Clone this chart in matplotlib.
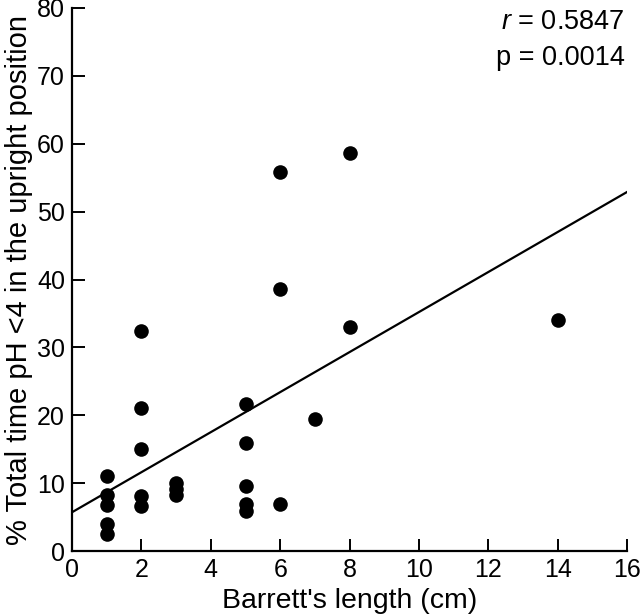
import numpy as np
import matplotlib
matplotlib.use("Agg")
import matplotlib.pyplot as plt

# Barrett's length (cm) and % time pH < 4 upright
barrett_cm = [1, 1, 1, 1, 1,
              2, 2, 2, 2, 2,
              3, 3, 3,
              5, 5, 5, 5, 5,
              6, 6, 6,
              7,
              8, 8,
              14]
pct_time = [11.1, 8.3, 6.8, 4.0, 2.5,
            32.4, 21.1, 15.0, 8.1, 6.6,
            10.0, 9.1, 8.2,
            21.6, 15.9, 9.6, 6.9, 5.9,
            55.8, 38.6, 6.9,
            19.4,
            58.7, 33.0,
            34.1]

stats_text = ["$r$ = 0.5847", "p = 0.0014"]

plt.rcParams["font.family"] = ["Liberation Sans", "DejaVu Sans"]
plt.rcParams["mathtext.fontset"] = "custom"
plt.rcParams["mathtext.it"] = "Liberation Sans:italic"

fig = plt.figure(figsize=(6.4, 6.15), dpi=100)
ax = fig.add_axes([0.1125, 0.104, 0.8675, 0.883])

x = np.array(barrett_cm, dtype=float)
y = np.array(pct_time, dtype=float)

ax.plot(x, y, "o", color="black", markersize=10.5, markeredgewidth=0)

# least squares line across the whole axis
slope, intercept = np.polyfit(x, y, 1)
xs = np.array([0, 16])
ax.plot(xs, intercept + slope * xs, color="black", linewidth=1.6)

ax.set_xlim(0, 16)
ax.set_ylim(0, 80)
ax.set_xticks(range(0, 17, 2))
ax.set_yticks(range(0, 81, 10))

for s in ["top", "right"]:
    ax.spines[s].set_visible(False)
for s in ["left", "bottom"]:
    ax.spines[s].set_linewidth(1.6)

ax.tick_params(direction="in", length=9, width=1.4, labelsize=18, pad=5)
ax.set_xlabel("Barrett's length (cm)", fontsize=20.5, labelpad=4)
ax.set_ylabel("% Total time pH <4 in the upright position", fontsize=21, labelpad=3)

ax.text(0.995, 0.998, stats_text[0], transform=ax.transAxes, ha="right", va="top", fontsize=19.5)
ax.text(0.995, 0.932, stats_text[1], transform=ax.transAxes, ha="right", va="top", fontsize=19.5)

fig.savefig("out.png", dpi=100)
